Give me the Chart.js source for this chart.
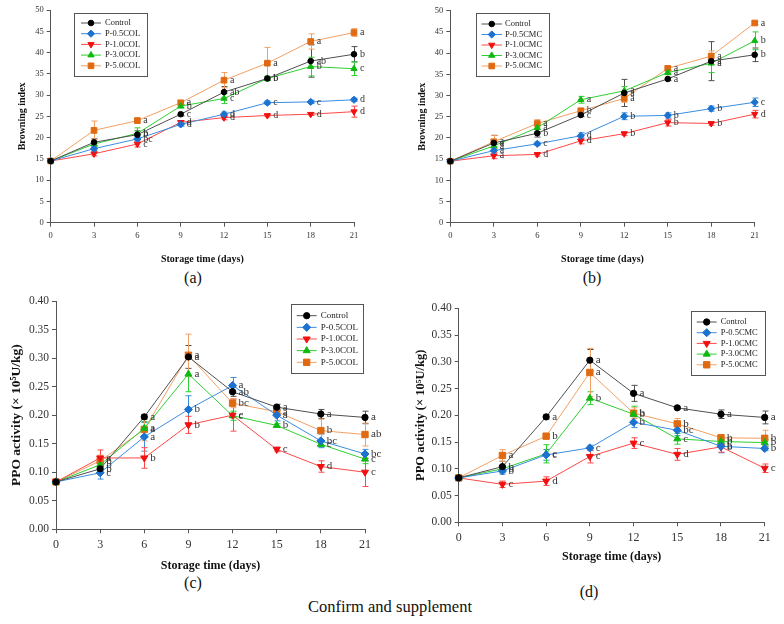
<!DOCTYPE html>
<html>
<head>
<meta charset="utf-8">
<script src="https://cdn.jsdelivr.net/npm/chart.js@4/dist/chart.umd.min.js"></script>
<style>
  body { margin: 0; background: #fff; }
  #wrap { position: relative; width: 784px; height: 624px; font-family: "Liberation Serif", "Times New Roman", serif; }
  .pane { position: absolute; }
  .lbl { position: absolute; transform: translate(-50%, -50%); font-size: 16px; color: #111; white-space: nowrap; }
</style>
</head>
<body>
<div id="wrap">
  <div class="pane" style="left:0;top:0"><canvas id="cA" width="392" height="265"></canvas></div>
  <div class="pane" style="left:392px;top:0"><canvas id="cB" width="392" height="265"></canvas></div>
  <div class="pane" style="left:0;top:290px"><canvas id="cC" width="392" height="283"></canvas></div>
  <div class="pane" style="left:392px;top:290px"><canvas id="cD" width="392" height="274"></canvas></div>
  <div class="lbl" style="left:193px;top:278px">(a)</div>
  <div class="lbl" style="left:592px;top:278px">(b)</div>
  <div class="lbl" style="left:193px;top:583px">(c)</div>
  <div class="lbl" style="left:589px;top:592px">(d)</div>
  <div class="lbl" style="left:390px;top:607px;font-size:16.5px">Confirm and supplement</div>
</div>
<script>
// dias de almacenamiento
const days = ['0', '3', '6', '9', '12', '15', '18', '21'];
const namesCOL = ['Control', 'P-0.5COL', 'P-1.0COL', 'P-3.0COL', 'P-5.0COL'];
const namesCMC = ['Control', 'P-0.5CMC', 'P-1.0CMC', 'P-3.0CMC', 'P-5.0CMC'];

// (a) browning index, COL
const browningColMeans = [
  [14.5, 18.9, 20.7, 25.5, 30.7, 33.9, 38.0, 39.6],
  [14.5, 17.4, 19.7, 23.1, 25.5, 28.2, 28.4, 28.9],
  [14.5, 16.2, 18.5, 23.6, 24.7, 25.2, 25.5, 26.1],
  [14.5, 18.5, 21.0, 27.4, 29.2, 33.9, 36.7, 36.2],
  [14.5, 21.7, 24.0, 28.2, 33.5, 37.5, 42.6, 44.7]
];
const browningColErrors = [
  [0, 0.8, 0.9, 0.4, 1.3, 0.5, 3.8, 1.8],
  [0, 0.4, 0.5, 0.4, 0.5, 0.4, 0.4, 0.4],
  [0, 0.5, 0.7, 0.4, 0.5, 0.3, 0.3, 1.3],
  [0, 0.5, 1.3, 0.4, 1.2, 0.5, 2.2, 1.6],
  [0, 2.2, 0.6, 0.4, 1.8, 3.7, 1.8, 0.9]
];
const browningColLetters = [
  ['', '', 'b', 'c', 'ab', 'b', 'ab', 'b'],
  ['', '', 'bc', 'd', 'd', 'c', 'c', 'd'],
  ['', '', 'c', 'd', 'd', 'd', 'd', 'd'],
  ['', '', 'b', 'b', 'c', 'b', 'b', 'c'],
  ['', '', 'a', 'a', 'a', 'a', 'a', 'a']
];

// (b) browning index, CMC
const browningCmcMeans = [
  [14.5, 18.8, 21.1, 25.4, 30.6, 33.9, 38.1, 39.6],
  [14.5, 17.0, 18.6, 20.5, 25.1, 25.3, 26.9, 28.4],
  [14.5, 15.8, 16.1, 19.3, 21.0, 23.6, 23.4, 25.6],
  [14.5, 18.1, 22.4, 29.0, 31.1, 35.4, 37.6, 42.9],
  [14.5, 19.1, 23.4, 26.4, 29.3, 36.4, 39.3, 47.1]
];
const browningCmcErrors = [
  [0, 1.8, 0.9, 0.4, 3.2, 0.4, 4.6, 1.6],
  [0, 0.9, 0.4, 0.7, 0.8, 0.6, 0.6, 1.0],
  [0, 0.7, 0.4, 0.7, 0.4, 0.8, 0.4, 0.9],
  [0, 0.6, 1.0, 0.8, 1.0, 0.5, 2.2, 2.1],
  [0, 1.5, 0.9, 0.6, 0.9, 0.4, 1.2, 0.4]
];
const browningCmcLetters = [
  ['', 'a', 'b', 'c', 'a', 'a', 'a', 'b'],
  ['', 'a', 'c', 'd', 'b', 'b', 'b', 'c'],
  ['', 'a', 'd', 'd', 'b', 'b', 'b', 'd'],
  ['', 'a', 'a', 'a', 'a', 'a', 'a', 'b'],
  ['', 'a', 'a', 'b', 'a', 'a', 'a', 'a']
];

// (c) PPO, COL
const ppoColMeans = [
  [0.083, 0.106, 0.197, 0.302, 0.241, 0.214, 0.202, 0.196],
  [0.083, 0.099, 0.162, 0.210, 0.252, 0.200, 0.155, 0.132],
  [0.083, 0.125, 0.125, 0.183, 0.200, 0.140, 0.110, 0.100],
  [0.083, 0.113, 0.177, 0.272, 0.199, 0.182, 0.149, 0.123],
  [0.083, 0.120, 0.175, 0.305, 0.221, 0.206, 0.173, 0.166]
];
const ppoColErrors = [
  [0, 0.004, 0.004, 0.020, 0.008, 0.005, 0.008, 0.011],
  [0, 0.011, 0.025, 0.024, 0.014, 0.010, 0.012, 0.008],
  [0, 0.014, 0.018, 0.015, 0.028, 0.004, 0.010, 0.025],
  [0, 0.005, 0.012, 0.031, 0.008, 0.003, 0.004, 0.008],
  [0, 0.010, 0.020, 0.037, 0.008, 0.008, 0.020, 0.020]
];
const ppoColLetters = [
  ['', 'b', 'a', 'a', 'ab', 'a', 'a', 'a'],
  ['', 'c', 'a', 'b', 'a', 'a', 'bc', 'bc'],
  ['', 'a', 'b', 'b', 'c', 'c', 'd', 'c'],
  ['', 'b', 'a', 'a', 'c', 'b', 'c', 'c'],
  ['', 'b', 'a', 'a', 'bc', 'a', 'b', 'ab']
];

// (d) PPO, CMC
const ppoCmcMeans = [
  [0.083, 0.104, 0.197, 0.303, 0.241, 0.214, 0.202, 0.196],
  [0.083, 0.096, 0.126, 0.139, 0.187, 0.172, 0.142, 0.138],
  [0.083, 0.071, 0.077, 0.123, 0.148, 0.127, 0.141, 0.101],
  [0.083, 0.100, 0.128, 0.232, 0.202, 0.156, 0.151, 0.149],
  [0.083, 0.125, 0.161, 0.280, 0.204, 0.184, 0.158, 0.157]
];
const ppoCmcErrors = [
  [0, 0.010, 0.004, 0.020, 0.015, 0.003, 0.008, 0.012],
  [0, 0.006, 0.010, 0.005, 0.010, 0.010, 0.012, 0.004],
  [0, 0.006, 0.008, 0.012, 0.010, 0.011, 0.010, 0.008],
  [0, 0.006, 0.017, 0.012, 0.015, 0.010, 0.004, 0.006],
  [0, 0.011, 0.004, 0.045, 0.010, 0.010, 0.005, 0.015]
];
const ppoCmcLetters = [
  ['', 'b', 'a', 'a', 'a', 'a', 'a', 'a'],
  ['', 'b', 'c', 'c', 'b', 'bc', 'b', 'b'],
  ['', 'c', 'd', 'c', 'c', 'd', 'b', 'c'],
  ['', 'b', 'c', 'b', 'b', 'c', 'b', 'b'],
  ['', 'a', 'b', 'a', 'b', 'b', 'b', 'b']
];

const SERIF = '"Liberation Serif", "Times New Roman", serif';

// estilo de cada serie: linea, marcador, forma
const estilos = [
  { line: '#505050', marker: '#000000', shape: 'circle', rot: 0, r: 3.5 },
  { line: '#3a8de0', marker: '#1b72cf', shape: 'rectRot', rot: 0, r: 4.5 },
  { line: '#ff4848', marker: '#f01010', shape: 'triangle', rot: 180, r: 4.5 },
  { line: '#2fcf2f', marker: '#12b812', shape: 'triangle', rot: 0, r: 4.5 },
  { line: '#f2a064', marker: '#e06a12', shape: 'rect', rot: 0, r: 5 }
];

// barras de error, letras y leyenda dentro del grafico
const extras = {
  id: 'extras',
  beforeDatasetsDraw(chart) {
    const ctx = chart.ctx;
    const y = chart.scales.y;
    ctx.save();
    ctx.lineWidth = 1;
    chart.data.datasets.forEach((ds, i) => {
      const meta = chart.getDatasetMeta(i);
      ctx.strokeStyle = ds.borderColor;
      ds.data.forEach((v, j) => {
        const e = ds.errors[j];
        if (!e) return;
        const px = Math.round(meta.data[j].x) + 0.5;
        const top = y.getPixelForValue(v + e);
        const bot = y.getPixelForValue(v - e);
        ctx.beginPath();
        ctx.moveTo(px, top); ctx.lineTo(px, bot);
        ctx.moveTo(px - 3, top); ctx.lineTo(px + 3, top);
        ctx.moveTo(px - 3, bot); ctx.lineTo(px + 3, bot);
        ctx.stroke();
      });
    });
    ctx.restore();
  },
  afterDatasetsDraw(chart, args, opts) {
    const ctx = chart.ctx;
    ctx.save();
    // letras de significancia
    ctx.font = opts.letterSize + 'px ' + SERIF;
    ctx.fillStyle = '#333';
    ctx.textBaseline = 'middle';
    ctx.textAlign = 'left';
    chart.data.datasets.forEach((ds, i) => {
      const meta = chart.getDatasetMeta(i);
      ds.letters.forEach((t, j) => {
        if (t) ctx.fillText(t, meta.data[j].x + 6, meta.data[j].y);
      });
    });
    // leyenda
    const L = opts.legend;
    ctx.fillStyle = '#fff';
    ctx.fillRect(L.x, L.y, L.w, L.h);
    ctx.strokeStyle = '#555';
    ctx.lineWidth = 1;
    ctx.strokeRect(Math.round(L.x) + 0.5, Math.round(L.y) + 0.5, Math.round(L.w), Math.round(L.h));
    ctx.font = L.size + 'px ' + SERIF;
    chart.data.datasets.forEach((ds, i) => {
      const yy = L.y + L.row0 + i * L.step;
      ctx.strokeStyle = ds.borderColor;
      ctx.beginPath();
      ctx.moveTo(L.x0, yy); ctx.lineTo(L.x1, yy);
      ctx.stroke();
      ctx.fillStyle = ds.pointBackgroundColor;
      ctx.strokeStyle = ds.pointBackgroundColor;
      Chart.helpers.drawPoint(ctx, {
        pointStyle: ds.pointStyle, rotation: ds.pointRotation,
        radius: ds.pointRadius, borderWidth: 1
      }, (L.x0 + L.x1) / 2, yy);
      ctx.fillStyle = '#222';
      ctx.fillText(ds.label, L.tx, yy);
    });
    ctx.restore();
  }
};

function crearPanel(id, names, means, errors, letters, yTitle, yMax, yStep, fmt, lay) {
  const datasets = names.map((n, i) => ({
    label: n,
    data: means[i],
    errors: errors[i],
    letters: letters[i],
    borderColor: estilos[i].line,
    backgroundColor: estilos[i].marker,
    pointBackgroundColor: estilos[i].marker,
    pointBorderColor: estilos[i].marker,
    pointStyle: estilos[i].shape,
    pointRotation: estilos[i].rot,
    pointRadius: estilos[i].r * lay.ptScale,
    pointBorderWidth: 1,
    borderWidth: 1,
    tension: 0
  }));

  new Chart(document.getElementById(id), {
    type: 'line',
    data: { labels: days, datasets: datasets },
    plugins: [extras],
    options: {
      responsive: false,
      animation: false,
      events: [],
      layout: { padding: { left: lay.padL, top: lay.padT, right: lay.padR, bottom: 0 } },
      plugins: {
        legend: { display: false },
        tooltip: { enabled: false },
        extras: { letterSize: lay.letterSize, legend: lay.legend }
      },
      scales: {
        x: {
          type: 'category',
          offset: false,
          afterFit: s => { s.height = lay.xH; },
          grid: { drawOnChartArea: false, drawTicks: true, tickLength: 4, color: '#555' },
          border: { display: true, color: '#555' },
          ticks: { autoSkip: false, maxRotation: 0, padding: 4, color: '#333', font: { family: SERIF, size: lay.tickX } },
          title: { display: true, text: 'Storage time (days)', color: '#111', padding: 0,
                   font: { family: SERIF, size: lay.titleX, weight: 'bold' } }
        },
        y: {
          min: 0,
          max: yMax,
          afterFit: s => { s.width = lay.yW; },
          grid: { drawOnChartArea: false, drawTicks: true, tickLength: 4, color: '#555' },
          border: { display: true, color: '#555' },
          ticks: { stepSize: yStep, padding: 3, color: '#333', callback: fmt,
                   font: { family: SERIF, size: lay.tickY } },
          title: { display: true, text: yTitle, color: '#111', padding: 0,
                   font: { family: SERIF, size: lay.titleY, weight: 'bold' } }
        }
      }
    }
  });
}

const fmtEntero = v => String(Math.round(v));
const fmtDec = v => v.toFixed(2);

crearPanel('cA', namesCOL, browningColMeans, browningColErrors, browningColLetters,
  'Browning index', 50, 5, fmtEntero, {
    padL: 16.7, padT: 10, padR: 38, yW: 34, xH: 42.3, ptScale: 0.8,
    tickX: 8.5, tickY: 8.5, titleX: 10, titleY: 10, letterSize: 10,
    legend: { x: 74, y: 12.7, w: 73, h: 63.3, row0: 10.3, step: 10.7, x0: 81, x1: 101, tx: 105, size: 8.5 }
  });

crearPanel('cB', namesCMC, browningCmcMeans, browningCmcErrors, browningCmcLetters,
  'Browning index', 50, 5, fmtEntero, {
    padL: 24, padT: 10.7, padR: 29.3, yW: 34.3, xH: 42.3, ptScale: 0.8,
    tickX: 8.5, tickY: 8.5, titleX: 10, titleY: 10, letterSize: 10,
    legend: { x: 83.7, y: 13.3, w: 72.5, h: 62.7, row0: 10.7, step: 10.5, x0: 89.5, x1: 110, tx: 113, size: 8.5 }
  });

crearPanel('cC', namesCOL, ppoColMeans, ppoColErrors, ppoColLetters,
  'PPO activity (× 10⁵U/kg)', 0.4, 0.05, fmtDec, {
    padL: 8.6, padT: 11, padR: 27, yW: 47.4, xH: 43.7, ptScale: 0.9,
    tickX: 12, tickY: 11.5, titleX: 12, titleY: 13.5, letterSize: 11,
    legend: { x: 290.7, y: 14, w: 72, h: 68.7, row0: 11.7, step: 11.65, x0: 296.7, x1: 316.7, tx: 320.7, size: 9 }
  });

crearPanel('cD', namesCMC, ppoCmcMeans, ppoCmcErrors, ppoCmcLetters,
  'PPO activity (× 10⁵U/kg)', 0.4, 0.05, fmtDec, {
    padL: 20.8, padT: 18.3, padR: 19.3, yW: 45.9, xH: 41.7, ptScale: 0.9,
    tickX: 12, tickY: 11.5, titleX: 12, titleY: 12.5, letterSize: 11,
    legend: { x: 298.7, y: 21, w: 74.3, h: 64.3, row0: 11, step: 10.7, x0: 304.7, x1: 324.7, tx: 328.7, size: 8.5 }
  });
</script>
</body>
</html>
